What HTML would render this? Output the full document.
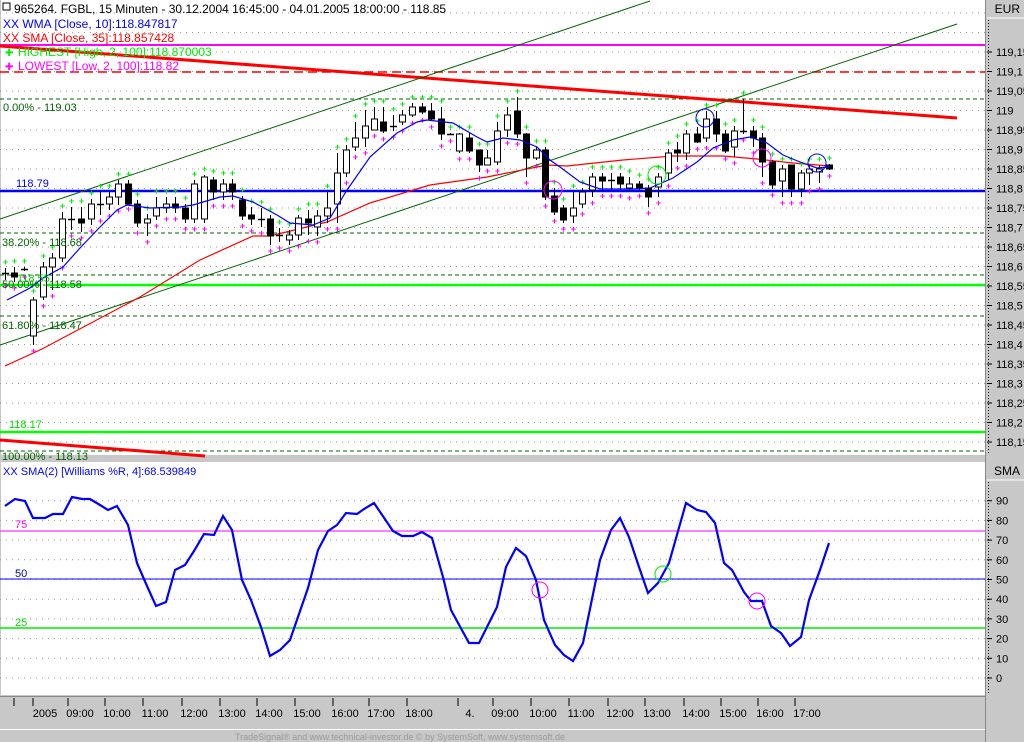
<!DOCTYPE html>
<html><head><meta charset="utf-8"><style>
html,body{margin:0;padding:0;background:#c8c8c8;}
svg{display:block;font-family:"Liberation Sans",sans-serif;}
</style></head><body>
<svg id="s" width="1024" height="742" xmlns="http://www.w3.org/2000/svg">
<rect x="0" y="0" width="1024" height="742" fill="#c8c8c8"/>
<rect x="1" y="0" width="984" height="455" fill="#fff"/>
<rect x="1" y="462" width="984" height="233" fill="#fff"/>
<g id="grid"></g>
<!-- fib dashed -->
<g stroke="#006400" stroke-width="1" stroke-dasharray="4,3">
<line x1="0" y1="99" x2="985" y2="99"/>
<line x1="0" y1="233" x2="985" y2="233"/>
<line x1="0" y1="275" x2="985" y2="275"/>
<line x1="0" y1="316" x2="985" y2="316"/>
<line x1="0" y1="451" x2="985" y2="451"/>
</g>
<line x1="0" y1="45" x2="985" y2="45" stroke="#ff00ff" stroke-width="2"/>
<line x1="0" y1="72" x2="985" y2="72" stroke="#ff0000" stroke-width="1.5" stroke-dasharray="9,5"/>
<line x1="0" y1="191" x2="985" y2="191" stroke="#0000ff" stroke-width="2.5"/>
<line x1="0" y1="285" x2="985" y2="285" stroke="#00ff00" stroke-width="2.5"/>
<line x1="0" y1="432" x2="985" y2="432" stroke="#00ff00" stroke-width="2.5"/>
<line x1="0" y1="46" x2="957" y2="118" stroke="#ff0000" stroke-width="3"/>
<line x1="0" y1="440" x2="205" y2="456" stroke="#ff0000" stroke-width="3"/>
<line x1="0" y1="219" x2="650" y2="1" stroke="#006400" stroke-width="1"/>
<line x1="0" y1="345" x2="957" y2="24" stroke="#006400" stroke-width="1"/>
<polyline fill="none" stroke="#ff0000" stroke-width="1.2" points="5,366 42,349 140,297 200,260 253,236 270,236 327,222 370,203 430,185 487,177 547,165 567,166 623,160 673,156 723,156 757,159 793,163 830,166"/>
<g id="candles"></g>
<polyline fill="none" stroke="#0000ff" stroke-width="1.2" points="7,300 30,288 43,278 63,267 80,248 100,227 117,210 127,205 150,208 180,207 193,205 220,197 233,196 253,202 277,215 290,223 313,225 330,218 347,190 370,157 397,133 417,122 427,120 453,123 477,137 487,142 503,138 520,140 537,147 550,160 560,167 580,182 600,189 633,189 650,188 673,178 697,162 713,148 733,140 750,137 767,143 783,155 800,162 817,168 829,167"/>
<g fill="none" stroke-width="1">
<circle cx="553" cy="190" r="9" stroke="#ff00ff"/>
<circle cx="657" cy="175" r="9" stroke="#00ee00"/>
<circle cx="705" cy="118" r="9" stroke="#0000ff"/>
<circle cx="762" cy="158" r="9" stroke="#ff00ff"/>
<circle cx="817" cy="163" r="9" stroke="#0000ff"/>
</g>
<g font-size="11">
<text x="3" y="111" fill="#006400">0.00% - 119.03</text>
<text x="2" y="246" fill="#006400">38.20% - 118.68</text>
<text x="2" y="288" fill="#006400">50.00% - 118.58</text>
<text x="17" y="282" fill="#00cc00">118.55</text>
<text x="2" y="329" fill="#006400">61.80% - 118.47</text>
<text x="2" y="460" fill="#006400">100.00% - 118.13</text>
<text x="16" y="187" fill="#0000ff">118.79</text>
<text x="9" y="428" fill="#00dd00">118.17</text>
</g>
<g font-size="12">
<rect x="3" y="3" width="7" height="7" fill="none" stroke="#000"/>
<text x="14" y="13" fill="#000">965264. FGBL, 15 Minuten - 30.12.2004 16:45:00 - 04.01.2005 18:00:00 - 118.85</text>
<text x="3" y="28" fill="#0000ff">XX WMA [Close, 10]:118.847817</text>
<text x="3" y="42" fill="#ff0000">XX SMA [Close, 35]:118.857428</text>
<text x="18" y="56" fill="#00ee00">HIGHEST [High, 2, 100]:118.870003</text>
<text x="18" y="70" fill="#ff00ff">LOWEST [Low, 2, 100]:118.82</text>
<text x="5" y="56" fill="#00ee00" font-size="10">✚</text>
<text x="5" y="70" fill="#ff00ff" font-size="10">✚</text>
</g>
<!-- lower panel -->
<line x1="0" y1="531" x2="985" y2="531" stroke="#ff00ff" stroke-width="1"/>
<line x1="0" y1="579" x2="985" y2="579" stroke="#0000ff" stroke-width="1"/>
<line x1="0" y1="628" x2="985" y2="628" stroke="#00ee00" stroke-width="1.5"/>
<g font-size="11">
<text x="15" y="528" fill="#ff00ff">75</text>
<text x="15" y="577" fill="#0000aa">50</text>
<text x="15" y="626" fill="#00dd00">25</text>
<text x="3" y="475" fill="#0000ff">XX SMA(2) [Williams %R, 4]:68.539849</text>
</g>
<polyline fill="none" stroke="#0000ff" stroke-width="2.2" points="5,506 15,499 25,501 33,518 45,518 53,514 63,514 72,497 82,499 90,499 100,505 108,510 117,506 128,525 137,563 147,586 156,606 166,602 175,570 185,565 194,551 204,534 214,535 223,516 232,530 242,580 251,600 261,627 270,656 280,650 290,640 308,588 318,550 328,531 337,525 346,513 357,514 364,509 374,503 393,531 402,536 413,536 422,532 432,538 443,577 451,610 469,643 479,643 497,607 506,567 516,548 526,556 536,580 544,620 555,645 564,655 573,661 583,643 600,560 611,530 620,518 629,537 639,567 648,593 658,583 669,563 686,503 697,510 706,512 715,523 724,563 732,570 744,592 751,601 762,601 771,626 781,633 790,646 801,637 809,600 820,570 829,543"/>
<g fill="none" stroke-width="1">
<circle cx="540" cy="590" r="8" stroke="#ff00ff"/>
<circle cx="663" cy="574" r="8" stroke="#00ee00"/>
<circle cx="757" cy="601" r="8" stroke="#ff00ff"/>
</g>
<!-- right axes -->
<line x1="985.5" y1="0" x2="985.5" y2="742" stroke="#888"/>
<line x1="987" y1="18" x2="1024" y2="18" stroke="#fff"/>
<text x="1020" y="13" font-size="12" text-anchor="end">EUR</text>
<line x1="987" y1="480" x2="1024" y2="480" stroke="#fff"/>
<text x="1020" y="475" font-size="12" text-anchor="end">SMA</text>
<g id="axis" font-size="11"></g>
<!-- time axis -->
<rect x="0" y="696" width="985" height="34" fill="#c8c8c8"/>
<line x1="0" y1="696.5" x2="985" y2="696.5" stroke="#888"/>
<line x1="0" y1="729.5" x2="985" y2="729.5" stroke="#fff"/>
<g id="time" font-size="11"></g>
<text x="400" y="740" font-size="9" fill="#999" text-anchor="middle">TradeSignal® and www.technical-investor.de © by SystemSoft, www.systemsoft.de</text>
</svg>
<script>
var NS="http://www.w3.org/2000/svg";
function el(p,t,a,txt){var e=document.createElementNS(NS,t);for(var k in a)e.setAttribute(k,a[k]);if(txt!==undefined)e.textContent=txt;document.getElementById(p).appendChild(e);return e;}
// grid dotted
for(var y=13;y<455;y+=19.5){el("grid","line",{x1:0,y1:y,x2:985,y2:y,stroke:"#999","stroke-dasharray":"1,5"});}
for(var v=90;v>=0;v-=10){var yy=678-v*1.97;el("grid","line",{x1:0,y1:yy,x2:985,y2:yy,stroke:"#999","stroke-dasharray":"1,5"});
el("axis","line",{x1:987,y1:yy,x2:992,y2:yy,stroke:"#000"});el("axis","text",{x:996,y:yy+4},String(v));}
el("axis","line",{x1:988.5,y1:20,x2:988.5,y2:455,stroke:"#000","stroke-dasharray":"1,2"});
el("axis","line",{x1:988.5,y1:482,x2:988.5,y2:695,stroke:"#000","stroke-dasharray":"1,2"});
for(var i=0;i<21;i++){var p=119.15-i*0.05;var yy=52+i*19.5;var s=p.toFixed(2).replace(/0+$/,"").replace(/\.$/,"").replace(".",",");
el("axis","line",{x1:987,y1:yy,x2:992,y2:yy,stroke:"#000"});el("axis","text",{x:996,y:yy+4},s);}
// candles: x, top, bot, hi, lo, type
var C=[[5,273,273,268,280,'d'],[14,273,277,267,282,'b'],[24,269,269,267,271,'d'],[33,300,336,297,345,'w'],[43,267,297,262,300,'w'],[52,258,267,253,290,'w'],[62,219,258,212,262,'w'],[71,219,219,207,230,'d'],[81,219,223,207,232,'b'],[91,204,219,199,225,'w'],[100,204,204,192,215,'d'],[109,197,204,192,210,'w'],[118,184,197,180,205,'w'],[128,184,204,180,203,'b'],[137,204,223,200,227,'b'],[147,219,223,214,236,'w'],[156,208,216,197,220,'w'],[166,204,208,197,213,'w'],[175,204,208,197,213,'b'],[185,208,219,204,223,'b'],[194,184,219,180,223,'w'],[204,177,219,175,223,'w'],[213,180,192,177,200,'b'],[223,184,192,179,200,'w'],[232,184,192,179,200,'b'],[242,200,216,196,220,'b'],[251,215,219,207,225,'b'],[261,219,219,208,227,'d'],[270,219,236,215,245,'b'],[279,235,235,228,242,'d'],[289,235,240,230,245,'w'],[298,218,235,215,240,'w'],[308,219,223,210,235,'b'],[317,216,227,210,236,'w'],[327,208,216,192,223,'w'],[337,173,204,153,223,'w'],[346,150,173,145,177,'w'],[355,138,147,122,151,'w'],[365,126,138,110,147,'w'],[374,119,130,107,130,'w'],[383,122,131,107,133,'b'],[393,126,126,115,131,'d'],[402,115,122,110,125,'w'],[412,107,115,103,117,'w'],[422,107,112,103,114,'b'],[431,111,119,103,121,'b'],[441,119,134,107,140,'b'],[450,134,134,133,135,'d'],[459,134,151,133,153,'w'],[469,138,151,133,153,'b'],[479,150,165,150,172,'b'],[487,158,165,150,165,'w'],[497,131,162,122,165,'w'],[507,115,130,107,137,'w'],[517,111,134,97,138,'b'],[526,134,158,133,177,'b'],[536,150,158,147,160,'w'],[545,150,197,147,200,'b'],[554,196,212,188,215,'b'],[563,208,220,205,223,'b'],[573,208,216,192,223,'w'],[582,192,204,188,208,'w'],[592,177,190,173,197,'w'],[602,177,181,173,190,'b'],[611,180,180,173,190,'d'],[620,177,184,173,190,'b'],[629,184,188,177,192,'w'],[639,184,188,181,190,'b'],[648,188,197,185,207,'b'],[658,177,187,173,197,'w'],[668,153,173,149,180,'w'],[677,150,153,142,162,'b'],[686,134,153,130,160,'w'],[697,134,142,127,143,'b'],[706,119,138,111,142,'w'],[716,119,134,111,142,'b'],[725,134,151,130,153,'b'],[734,131,147,126,157,'w'],[743,131,131,99,134,'d'],[753,131,138,126,147,'b'],[762,138,162,133,177,'b'],[772,162,185,160,189,'b'],[782,169,181,165,197,'w'],[791,165,189,165,197,'b'],[801,173,189,170,197,'w'],[809,169,173,165,185,'w'],[819,169,172,165,183,'w'],[829,165,169,164,170,'b']];
C.forEach(function(c){var x=c[0];
el("candles","line",{x1:x+0.5,y1:c[3],x2:x+0.5,y2:c[4],stroke:"#000"});
if(c[5]=='d'){el("candles","line",{x1:x-3,y1:c[1]+0.5,x2:x+4,y2:c[1]+0.5,stroke:"#000","stroke-width":1.5});}
else{el("candles","rect",{x:x-2.5,y:c[1],width:6,height:Math.max(c[2]-c[1],2),fill:c[5]=='b'?"#000":"#fff",stroke:"#000"});}
el("candles","text",{x:x+0.5,y:c[3]-3,"font-size":9,fill:"#00ee00","text-anchor":"middle","font-weight":"bold"},"+");
el("candles","text",{x:x+0.5,y:c[4]+9,"font-size":9,fill:"#ff00ff","text-anchor":"middle","font-weight":"bold"},"+");
});
// time axis
var T=[["2005",45],["09:00",80],["10:00",117],["11:00",155],["12:00",194],["13:00",232],["14:00",269],["15:00",307],["16:00",345],["17:00",381],["18:00",419],["4.",470],["09:00",505],["10:00",543],["11:00",581],["12:00",620],["13:00",657],["14:00",696],["15:00",733],["16:00",770],["17:00",807]];
el("time","line",{x1:14,y1:698,x2:14,y2:706,stroke:"#000"});
T.forEach(function(t){el("time","text",{x:t[1],y:717,"text-anchor":"middle"},t[0]);el("time","line",{x1:t[1]-12,y1:698,x2:t[1]-12,y2:706,stroke:"#000"});});
</script>
</body></html>
